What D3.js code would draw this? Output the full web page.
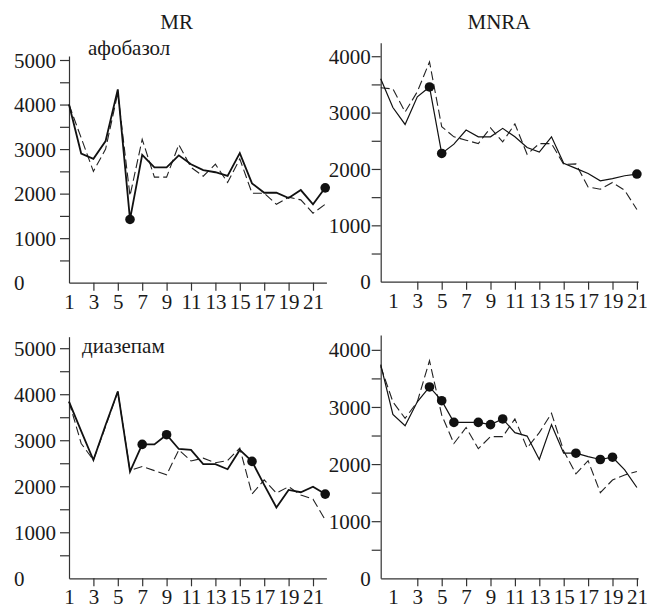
<!DOCTYPE html>
<html>
<head>
<meta charset="utf-8">
<script src="https://cdn.jsdelivr.net/npm/d3@7"></script>
<style>
  body { margin: 0; background: #fff; }
</style>
</head>
<body>
<svg id="chart" width="647" height="605"></svg>
<script>
// session numbers
var sessionsMR = [1,2,3,4,5,6,7,8,9,10,11,12,13,14,15,16,17,18,19,20,21,22];
var sessionsMNRA = [0,1,2,3,4,5,6,7,8,9,10,11,12,13,14,15,16,17,18,19,20,21];
var xTickLabels = [1,3,5,7,9,11,13,15,17,19,21];

// афобазол
var afoMRSolid  = [4000,2900,2780,3180,4340,1420,2870,2590,2590,2860,2660,2530,2480,2400,2910,2230,2020,2020,1900,2080,1760,2130];
var afoMRDashed = [4000,3250,2500,3000,4260,1950,3220,2370,2370,3100,2590,2390,2660,2250,2780,2010,2010,1760,1920,1860,1560,1760];
var afoMRDots = [6,22];
var afoMNRASolid  = [3600,3090,2790,3280,3455,2275,2440,2690,2570,2570,2720,2570,2380,2300,2570,2100,2010,1920,1790,1830,1880,1910];
var afoMNRADashed = [3440,3420,3010,3370,3900,2750,2570,2510,2450,2730,2480,2800,2260,2450,2450,2080,2090,1680,1640,1760,1620,1280];
var afoMNRADots = [4,5,21];

// диазепам
var diaMRSolid  = [3840,3200,2570,3330,4060,2320,2910,2910,3120,2810,2790,2480,2480,2370,2790,2540,2030,1540,1920,1870,1990,1830];
var diaMRDashed = [3840,2930,2570,3300,4060,2340,2430,2340,2250,2790,2550,2610,2510,2560,2830,1830,2140,1850,1990,1810,1720,1270];
var diaMRDots = [7,9,16,22];
var diaMNRASolid  = [3740,2870,2670,3090,3350,3110,2730,2730,2730,2690,2790,2550,2490,2080,2690,2190,2190,2130,2080,2120,1900,1590];
var diaMNRADashed = [3710,3090,2800,3090,3810,2860,2360,2640,2270,2480,2480,2790,2280,2550,2890,2230,1830,2060,1500,1720,1810,1870];
var diaMNRADots = [4,5,6,8,9,10,16,18,19];

var FONT = '"Liberation Serif", "Times New Roman", serif';
var svg = d3.select('#chart');

var panels = [
    { x: sessionsMR, solid: afoMRSolid, dashed: afoMRDashed, dots: afoMRDots, left: 69, bottom: 282.7, top: 56, yTop: 5090, xMax: 22.1, leftCol: true, thick: 1.8, label: 'афобазол', lx: 88, ly: 55 },
    { x: sessionsMNRA, solid: afoMNRASolid, dashed: afoMNRADashed, dots: afoMNRADots, left: 380.7, bottom: 281.7, top: 42.7, yTop: 4240, xMax: 21.1, leftCol: false, thick: 1.2 },
    { x: sessionsMR, solid: diaMRSolid, dashed: diaMRDashed, dots: diaMRDots, left: 69, bottom: 578.3, top: 336.7, yTop: 5250, xMax: 22.1, leftCol: true, thick: 1.8, label: 'диазепам', lx: 82, ly: 353 },
    { x: sessionsMNRA, solid: diaMNRASolid, dashed: diaMNRADashed, dots: diaMNRADots, left: 380.7, bottom: 578.3, top: 335, yTop: 4260, xMax: 21.1, leftCol: false, thick: 1.2 }
];

var unit = 12.2;

panels.forEach(function(p) {
    var x0 = p.x[0];
    var xs = d3.scaleLinear().domain([x0, p.xMax]).range([p.left, p.left + (p.xMax - x0) * unit]);
    var ys = d3.scaleLinear().domain([0, p.yTop]).range([p.bottom, p.top]);
    var g = svg.append('g');

    // y axis, ticks every 500, labels every 1000
    var yTicks = d3.range(0, p.yTop, 500);
    var yAxis = d3.axisLeft(ys).tickValues(yTicks).tickSize(9).tickSizeOuter(0)
        .tickFormat(function(d) { return d % 1000 === 0 ? d : ''; });
    var ya = g.append('g').attr('transform', 'translate(' + p.left + ',0)').call(yAxis);
    ya.selectAll('.tick').filter(function(d) { return d === 0; }).select('line').remove();
    ya.selectAll('text').attr('dy', '0.34em');
    if (p.leftCol) {
        ya.selectAll('text').attr('text-anchor', 'start').attr('x', -55);
    } else {
        ya.selectAll('text').attr('x', -10);
    }

    // x axis
    var xAxis = d3.axisBottom(xs).tickValues(xTickLabels).tickSize(8).tickSizeOuter(0).tickPadding(3);
    var xa = g.append('g').attr('transform', 'translate(0,' + p.bottom + ')').call(xAxis);
    xa.selectAll('.tick').filter(function(d) { return d === 1; }).select('line').remove();

    g.selectAll('.tick text')
        .style('font-family', FONT)
        .style('font-size', '21px')
        .style('fill', '#1a1a1a');
    g.selectAll('.domain, .tick line').attr('stroke', '#333').attr('stroke-width', 1.2);

    var line = d3.line().x(function(d, i) { return xs(p.x[i]); }).y(function(d) { return ys(d); });

    g.append('path').datum(p.dashed)
        .attr('d', line)
        .style('fill', 'none')
        .style('stroke', '#222')
        .style('stroke-width', 1.1)
        .style('stroke-dasharray', '9,4');

    g.append('path').datum(p.solid)
        .attr('d', line)
        .style('fill', 'none')
        .style('stroke', '#111')
        .style('stroke-width', p.thick);

    g.selectAll('.dot').data(p.dots).enter().append('circle')
        .attr('class', 'dot')
        .attr('cx', function(d) { return xs(d); })
        .attr('cy', function(d) { return ys(p.solid[p.x.indexOf(d)]); })
        .attr('r', 4.8)
        .style('fill', '#111');

    if (p.label) {
        g.append('text').attr('x', p.lx).attr('y', p.ly)
            .style('font-family', FONT).style('font-size', '21px').style('fill', '#1a1a1a')
            .text(p.label);
    }
});

svg.append('text').attr('x', 176.7).attr('y', 29).attr('text-anchor', 'middle')
    .style('font-family', FONT).style('font-size', '21px').style('fill', '#1a1a1a').text('MR');
svg.append('text').attr('x', 499).attr('y', 29).attr('text-anchor', 'middle')
    .style('font-family', FONT).style('font-size', '21px').style('fill', '#1a1a1a').text('MNRA');
</script>
</body>
</html>
